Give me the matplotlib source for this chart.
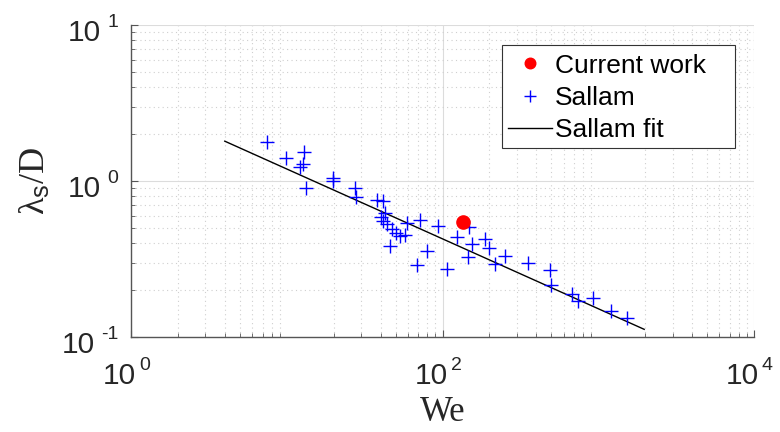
import matplotlib
matplotlib.use("Agg")
import matplotlib.pyplot as plt
from matplotlib.ticker import LogLocator, FixedLocator, NullFormatter
from matplotlib.patches import Rectangle

plt.rcParams['mathtext.fontset'] = 'custom'
plt.rcParams['mathtext.rm'] = 'Liberation Serif'
plt.rcParams['mathtext.sf'] = 'Liberation Sans'
plt.rcParams['font.family'] = ['Liberation Sans', 'DejaVu Sans']

# ---- data ----
sallam_we = [7.43, 9.89, 12.97, 12.77, 12.25, 13.3, 19.7, 19.7, 27.4, 27.8,
             37.8, 41.2, 42.7, 40.1, 41.7, 43.8, 47.2, 50.3, 53.3, 57.4,
             58.9, 71.7, 46.0, 79.2, 68.6, 93.3, 106.4, 123.4, 148.6, 153.9,
             146.4, 187.5, 199.5, 250.8, 218.9, 356.5, 487.7, 495.7, 675.6, 744.7,
             921.0, 1199.0, 1538.0]
sallam_lam = [1.77, 1.41, 1.53, 1.285, 1.224, 0.908, 1.04, 1.0, 0.898, 0.786,
              0.75, 0.748, 0.621, 0.585, 0.557, 0.528, 0.49, 0.462, 0.444, 0.451,
              0.541, 0.562, 0.383, 0.354, 0.29, 0.512, 0.274, 0.436, 0.505, 0.392,
              0.326, 0.423, 0.372, 0.331, 0.292, 0.298, 0.27, 0.215, 0.19, 0.169,
              0.179, 0.147, 0.132]
current_we = [136.1]
current_lam = [0.548]
fit_we = [4.0, 1972.0]
fit_lam = [1.80, 0.112]

x_ticks = [1, 100, 10000]
x_tick_exps = ['0', '2', '4']
y_ticks = [0.1, 1, 10]
y_tick_exps = ['-1', '0', '1']

PX = 0.72  # points per pixel at 100 dpi
TICK_COLOR = '#262626'
BASE_FS = 21.5
EXP_FS = 14

fig = plt.figure(figsize=(7.8, 4.32), dpi=100)
ax = fig.add_axes([131/780, 95/432, 623/780, 312/432])
ax.set_xscale('log')
ax.set_yscale('log')
ax.set_xlim(1, 1e4)
ax.set_ylim(0.1, 10)

ax.plot(current_we, current_lam, 'o', color='red', markersize=9.5, label='Current work', zorder=4)
ax.plot(sallam_we, sallam_lam, '+', color='blue', markersize=10, markeredgewidth=1.0, label='Sallam', zorder=3)
ax.plot(fit_we, fit_lam, '-', color='black', linewidth=1.0, label='Sallam fit', zorder=2)

ax.xaxis.set_major_locator(FixedLocator(x_ticks))
ax.yaxis.set_major_locator(FixedLocator(y_ticks))
ax.xaxis.set_major_formatter(NullFormatter())
ax.yaxis.set_major_formatter(NullFormatter())
ax.xaxis.set_minor_locator(LogLocator(base=10, subs=range(2, 10), numticks=20))
ax.yaxis.set_minor_locator(LogLocator(base=10, subs=range(2, 10), numticks=20))
ax.xaxis.set_minor_formatter(NullFormatter())
ax.yaxis.set_minor_formatter(NullFormatter())

# MATLAB-style tick labels: base "10" with separate exponent
for t, e in zip(x_ticks, x_tick_exps):
    ax.annotate('10', xy=(t, 0), xycoords=('data', 'axes fraction'),
                xytext=(5 * PX, -47 * PX), textcoords='offset points',
                ha='right', va='baseline', fontsize=BASE_FS, color=TICK_COLOR,
                annotation_clip=False)
    ax.annotate(e, xy=(t, 0), xycoords=('data', 'axes fraction'),
                xytext=(8 * PX, -33 * PX), textcoords='offset points',
                ha='left', va='baseline', fontsize=EXP_FS, color=TICK_COLOR,
                annotation_clip=False)

for t, e in zip(y_ticks, y_tick_exps):
    exp_ann = ax.annotate(e, xy=(0, t), xycoords=('axes fraction', 'data'),
                          xytext=(-13 * PX, -2 * PX), textcoords='offset points',
                          ha='right', va='baseline', fontsize=EXP_FS, color=TICK_COLOR,
                          annotation_clip=False)
    ax.annotate('10', xy=(0, t), xycoords=(exp_ann, 'data'),
                xytext=(-6 * PX, -16 * PX), textcoords='offset points',
                ha='right', va='baseline', fontsize=BASE_FS, color=TICK_COLOR,
                annotation_clip=False)

ax.grid(True, which='major', color='#dcdcdc', linestyle='-', linewidth=0.8)
ax.grid(True, which='minor', color='#cfcfcf', linestyle=(0, (1, 3)), linewidth=0.8)
ax.set_axisbelow(True)

for s in ['top', 'right']:
    ax.spines[s].set_visible(False)
for s in ['left', 'bottom']:
    ax.spines[s].set_color('#555555')
    ax.spines[s].set_linewidth(1.0)

ax.tick_params(which='both', direction='in', colors='#555555')
ax.tick_params(which='major', length=5, width=0.8)
ax.tick_params(which='minor', length=3, width=0.6)

ax.set_xlabel('We', fontsize=25, color=TICK_COLOR, family='Liberation Serif')
ax.xaxis.label.set_va('baseline')
ax.xaxis.set_label_coords(0.5, -(421 - 337) / 312)

ax.set_ylabel(r'$\mathrm{\lambda_{\mathsf{s}}/D}$', fontsize=26, color=TICK_COLOR)
ax.yaxis.label.set_va('center')
ax.yaxis.label.set_ha('center')
ax.yaxis.set_label_coords((35 - 131) / 623, 0.5)

# legend: frame drawn separately (MATLAB style wide right margin)
frame = Rectangle(((502 - 131) / 623, (337 - 148.3) / 312),
                  (735 - 502) / 623, (148.3 - 45) / 312,
                  transform=ax.transAxes, facecolor='white', edgecolor='#333333',
                  linewidth=0.8, zorder=5)
ax.add_patch(frame)
leg = ax.legend(loc='upper left', bbox_to_anchor=((508 - 131) / 623, (337 - 53.6) / 312),
                fontsize=19, frameon=False, handlelength=1.67, handletextpad=0.12,
                borderpad=0, labelspacing=0.31, borderaxespad=0, markerscale=0.8)
leg.set_zorder(6)

fig.savefig('out.png', dpi=100)
